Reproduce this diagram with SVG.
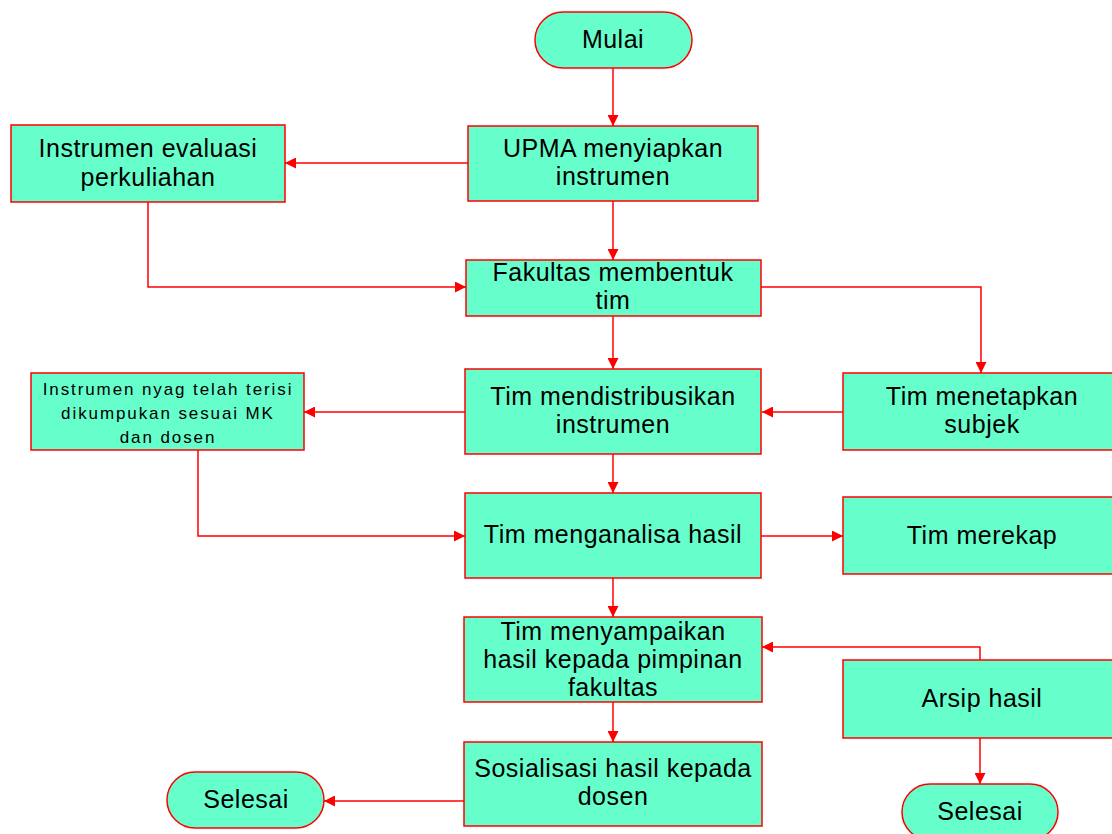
<svg xmlns="http://www.w3.org/2000/svg" width="1112" height="834" viewBox="0 0 1112 834">
<style>
.n{fill:#66FFCC;stroke:#FF0000;stroke-width:1.5}
.t{font-family:"Liberation Sans",Arial,sans-serif;font-size:25px;letter-spacing:0.5px;fill:#000;text-anchor:middle}
.s{font-size:17px;letter-spacing:1.9px}
.c{fill:none;stroke:#FF0000;stroke-width:1.5}
</style>
<defs>
<marker id="a" viewBox="0 0 10 10" refX="10" refY="5" markerWidth="11" markerHeight="11" markerUnits="userSpaceOnUse" orient="auto">
<path d="M0,0 L10,5 L0,10 z" fill="#FF0000"/>
</marker>
</defs>
<rect width="1112" height="834" fill="#fff"/>
<g id="connectors">
<path class="c" d="M613,68 V126" marker-end="url(#a)"/>
<path class="c" d="M468,163 H285" marker-end="url(#a)"/>
<path class="c" d="M613,201 V260" marker-end="url(#a)"/>
<path class="c" d="M148,202 V287 H466" marker-end="url(#a)"/>
<path class="c" d="M761,287 H981 V373" marker-end="url(#a)"/>
<path class="c" d="M613,316 V369" marker-end="url(#a)"/>
<path class="c" d="M843,412 H762" marker-end="url(#a)"/>
<path class="c" d="M465,412 H304" marker-end="url(#a)"/>
<path class="c" d="M613,454 V493" marker-end="url(#a)"/>
<path class="c" d="M198,450 V536 H465" marker-end="url(#a)"/>
<path class="c" d="M761,536 H843" marker-end="url(#a)"/>
<path class="c" d="M613,578 V617" marker-end="url(#a)"/>
<path class="c" d="M980,660 V647 H762" marker-end="url(#a)"/>
<path class="c" d="M613,702 V742" marker-end="url(#a)"/>
<path class="c" d="M980,738 V784" marker-end="url(#a)"/>
<path class="c" d="M464,801 H324" marker-end="url(#a)"/>
</g>
<g id="mulai">
<rect class="n" x="535" y="12" width="157" height="56" rx="28"/>
<text class="t" x="613" y="48">Mulai</text>
</g>
<g id="upma">
<rect class="n" x="468" y="126" width="290" height="75"/>
<text class="t" x="613" y="157">UPMA menyiapkan</text>
<text class="t" x="613" y="185">instrumen</text>
</g>
<g id="instrumen-evaluasi">
<rect class="n" x="11" y="125" width="274" height="77"/>
<text class="t" x="148" y="157">Instrumen evaluasi</text>
<text class="t" x="148" y="186">perkuliahan</text>
</g>
<g id="fakultas">
<rect class="n" x="466" y="260" width="295" height="56"/>
<text class="t" x="613" y="281">Fakultas membentuk</text>
<text class="t" x="613" y="309">tim</text>
</g>
<g id="distribusi">
<rect class="n" x="465" y="369" width="296" height="85"/>
<text class="t" x="613" y="405">Tim mendistribusikan</text>
<text class="t" x="613" y="433">instrumen</text>
</g>
<g id="terisi">
<rect class="n" x="31" y="373" width="273" height="77"/>
<text class="t s" x="168" y="395">Instrumen nyag telah terisi</text>
<text class="t s" x="168" y="419">dikumpukan sesuai MK</text>
<text class="t s" x="168" y="443">dan dosen</text>
</g>
<g id="subjek">
<rect class="n" x="843" y="373" width="280" height="77"/>
<text class="t" x="982" y="405">Tim menetapkan</text>
<text class="t" x="982" y="433">subjek</text>
</g>
<g id="analisa">
<rect class="n" x="465" y="493" width="296" height="85"/>
<text class="t" x="613" y="543">Tim menganalisa hasil</text>
</g>
<g id="merekap">
<rect class="n" x="843" y="497" width="280" height="77"/>
<text class="t" x="982" y="544">Tim merekap</text>
</g>
<g id="menyampaikan">
<rect class="n" x="464" y="617" width="298" height="85"/>
<text class="t" x="613" y="640">Tim menyampaikan</text>
<text class="t" x="613" y="668">hasil kepada pimpinan</text>
<text class="t" x="613" y="696">fakultas</text>
</g>
<g id="arsip">
<rect class="n" x="843" y="660" width="280" height="78"/>
<text class="t" x="982" y="707">Arsip hasil</text>
</g>
<g id="sosialisasi">
<rect class="n" x="464" y="742" width="298" height="84"/>
<text class="t" x="613" y="777">Sosialisasi hasil kepada</text>
<text class="t" x="613" y="805">dosen</text>
</g>
<g id="selesai-kiri">
<rect class="n" x="167" y="772" width="157" height="56" rx="28"/>
<text class="t" x="246" y="808">Selesai</text>
</g>
<g id="selesai-kanan">
<rect class="n" x="902" y="784" width="156" height="56" rx="28"/>
<text class="t" x="980" y="820">Selesai</text>
</g>
</svg>
